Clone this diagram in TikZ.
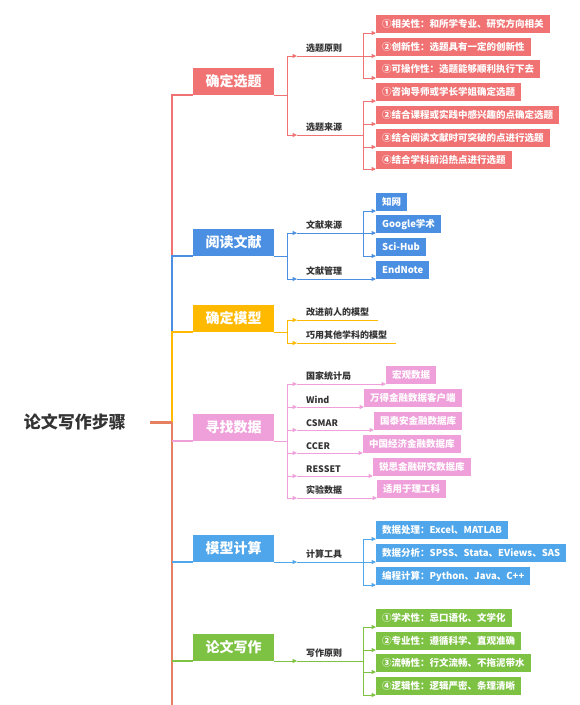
\documentclass[tikz,border=0pt]{standalone}
\usepackage{fontspec}
\setmainfont{Noto Sans CJK SC}
\usetikzlibrary{arrows.meta}
\definecolor{cred}{HTML}{F07272}
\definecolor{cblue}{HTML}{4A8FE2}
\definecolor{cyel}{HTML}{FFBA00}
\definecolor{cpink}{HTML}{EFA0DA}
\definecolor{csky}{HTML}{4FA6EA}
\definecolor{cgreen}{HTML}{7DC243}
\definecolor{corange}{HTML}{E58060}
\definecolor{ctext}{HTML}{333333}
\tikzset{
  mainbox/.style={fill=#1, text=white, font=\fontsize{14}{14}\selectfont\bfseries,
    minimum width=81pt, minimum height=27pt, inner sep=0pt, anchor=south west},
  subbox/.style={fill=#1, text=white, font=\fontsize{9.5}{10}\selectfont\bfseries,
    minimum height=17.5pt, inner xsep=6pt, inner ysep=0pt, anchor=south west},
  lab/.style={text=ctext, font=\fontsize{9}{9}\selectfont\bfseries,
    inner xsep=9pt, inner ysep=3pt, anchor=south west},
  conn/.style={draw=#1, line width=1pt, -{Triangle[length=4.5pt,width=4pt]}},
  plainln/.style={draw=#1, line width=1pt},
  trunk/.style={draw=#1, line width=1.6pt}
}
\begin{document}
\begin{tikzpicture}[x=1pt,y=-1pt]
\fill[white] (0,0) rectangle (580,705);
\useasboundingbox (0,0) rectangle (580,705);

% root
\node[text=ctext, font=\fontsize{17}{17}\selectfont\bfseries, inner sep=0pt, anchor=east] (root) at (126,422) {论文写作步骤};
\coordinate (jn) at (172,422);
\coordinate (tend) at (172,705);

% main boxes
\node[mainbox=cred] (b1) at (193,95) {确定选题};
\node[mainbox=cblue] (b2) at (193,256) {阅读文献};
\node[mainbox=cyel] (b3) at (193,332) {确定模型};
\node[mainbox=cpink] (b4) at (193,441) {寻找数据};
\node[mainbox=csky] (b5) at (193,562) {模型计算};
\node[mainbox=cgreen] (b6) at (193,661) {论文写作};

% trunk
\draw[trunk=cred] (jn) |- (b1.south west);
\draw[trunk=cblue] (jn) |- (b2.south west);
\draw[trunk=cyel] (jn) |- (b3.south west);
\draw[trunk=corange] (jn) -- (tend);
\draw[trunk=cpink] (jn |- b4.south west) -- (b4.south west);
\draw[trunk=csky] (jn |- b5.south west) -- (b5.south west);
\draw[trunk=cgreen] (jn |- b6.south west) -- (b6.south west);
\draw[draw=corange, line width=3pt] ([xshift=24pt]root.east) -- (jn);

% ---- branch 1
\coordinate (s1) at (287,95);
\draw[plainln=cred] (b1.south east) -- (s1);
\node[lab] (l1a) at (297,56) {选题原则};
\node[lab] (l1b) at (297,135) {选题来源};
\draw[conn=cred] (s1) |- (l1a.south west);
\draw[conn=cred] (s1) |- (l1b.south west);
\coordinate (s1a) at (363,56);
\coordinate (s1b) at (363,135);
\draw[plainln=cred] (l1a.south west) -- (s1a);
\draw[plainln=cred] (l1b.south west) -- (s1b);
\node[subbox=cred] (r1) at (376,33) {①相关性：和所学专业、研究方向相关};
\node[subbox=cred] (r2) at (376,56) {②创新性：选题具有一定的创新性};
\node[subbox=cred] (r3) at (376,78) {③可操作性：选题能够顺利执行下去};
\node[subbox=cred] (q1) at (376,101) {①咨询导师或学长学姐确定选题};
\node[subbox=cred] (q2) at (376,124) {②结合课程或实践中感兴趣的点确定选题};
\node[subbox=cred] (q3) at (376,147) {③结合阅读文献时可突破的点进行选题};
\node[subbox=cred] (q4) at (376,169) {④结合学科前沿热点进行选题};
\foreach \n in {r1,r2,r3} \draw[conn=cred] (s1a) |- (\n.south west);
\foreach \n in {q1,q2,q3,q4} \draw[conn=cred] (s1b) |- (\n.south west);

% ---- branch 2
\coordinate (s2) at (287,256);
\draw[plainln=cblue] (b2.south east) -- (s2);
\node[lab] (l2a) at (297,233) {文献来源};
\node[lab] (l2b) at (297,279) {文献管理};
\draw[conn=cblue] (s2) |- (l2a.south west);
\draw[conn=cblue] (s2) |- (l2b.south west);
\coordinate (s2a) at (363,233);
\draw[plainln=cblue] (l2a.south west) -- (s2a);
\node[subbox=cblue] (w1) at (376,211) {知网};
\node[subbox=cblue] (w2) at (376,233) {Google学术};
\node[subbox=cblue] (w3) at (376,256) {Sci-Hub};
\node[subbox=cblue] (w4) at (376,279) {EndNote};
\foreach \n in {w1,w2,w3} \draw[conn=cblue] (s2a) |- (\n.south west);
\draw[conn=cblue] (l2b.south west) -- (w4.south west);

% ---- branch 3
\coordinate (s3) at (287,332);
\draw[plainln=cyel] (b3.south east) -- (s3);
\node[lab] (l3a) at (297,320) {改进前人的模型};
\node[lab] (l3b) at (297,343) {巧用其他学科的模型};
\draw[conn=cyel] (s3) |- (l3a.south west);
\draw[conn=cyel] (s3) |- (l3b.south west);
\draw[plainln=cyel] (l3a.south west) -- (l3a.south east);
\draw[plainln=cyel] (l3b.south west) -- (l3b.south east);

% ---- branch 4
\coordinate (s4) at (287,441);
\draw[plainln=cpink] (b4.south east) -- (s4);
\node[lab] (d1) at (297,384) {国家统计局};
\node[lab] (d2) at (297,407) {Wind};
\node[lab] (d3) at (297,430) {CSMAR};
\node[lab] (d4) at (297,453) {CCER};
\node[lab] (d5) at (297,476) {RESSET};
\node[lab] (d6) at (297,498) {实验数据};
\node[subbox=cpink] (e1) at (386,384) {宏观数据};
\node[subbox=cpink] (e2) at (364,407) {万得金融数据客户端};
\node[subbox=cpink] (e3) at (374,430) {国泰安金融数据库};
\node[subbox=cpink] (e4) at (363,453) {中国经济金融数据库};
\node[subbox=cpink] (e5) at (373,476) {锐思金融研究数据库};
\node[subbox=cpink] (e6) at (377,498) {适用于理工科};
\foreach \i in {1,...,6} {
  \draw[conn=cpink] (s4) |- (d\i.south west);
  \draw[conn=cpink] (d\i.south west) -- (e\i.south west);
}

% ---- branch 5
\coordinate (s5) at (287,562);
\draw[plainln=csky] (b5.south east) -- (s5);
\node[lab] (l5) at (297,562) {计算工具};
\draw[conn=csky] (s5) -- (l5.south west);
\coordinate (s5a) at (363,562);
\draw[plainln=csky] (l5.south west) -- (s5a);
\node[subbox=csky] (c1) at (376,539) {数据处理：Excel、MATLAB};
\node[subbox=csky] (c2) at (376,562) {数据分析：SPSS、Stata、EViews、SAS};
\node[subbox=csky] (c3) at (376,585) {编程计算：Python、Java、C++};
\foreach \n in {c1,c2,c3} \draw[conn=csky] (s5a) |- (\n.south west);

% ---- branch 6
\coordinate (s6) at (287,661);
\draw[plainln=cgreen] (b6.south east) -- (s6);
\node[lab] (l6) at (297,661) {写作原则};
\draw[conn=cgreen] (s6) -- (l6.south west);
\coordinate (s6a) at (363,661);
\draw[plainln=cgreen] (l6.south west) -- (s6a);
\node[subbox=cgreen] (g1) at (376,627) {①学术性：忌口语化、文学化};
\node[subbox=cgreen] (g2) at (376,650) {②专业性：遵循科学、直观准确};
\node[subbox=cgreen] (g3) at (376,672) {③流畅性：行文流畅、不拖泥带水};
\node[subbox=cgreen] (g4) at (376,695) {④逻辑性：逻辑严密、条理清晰};
\foreach \n in {g1,g2,g3,g4} \draw[conn=cgreen] (s6a) |- (\n.south west);
\end{tikzpicture}
\end{document}
